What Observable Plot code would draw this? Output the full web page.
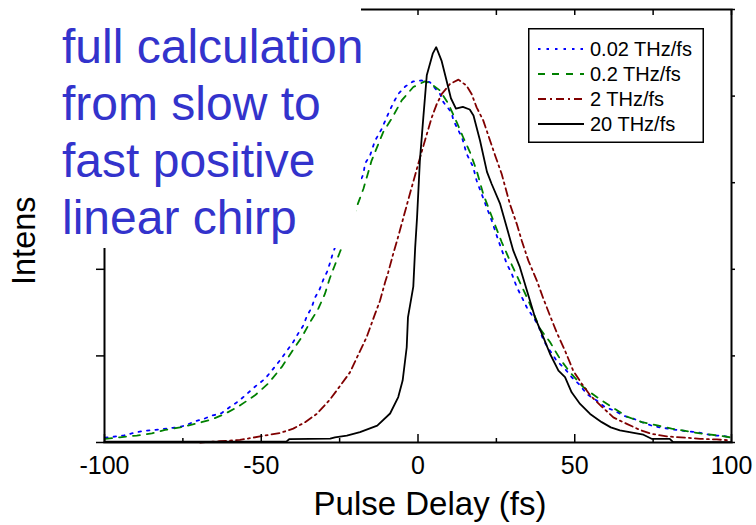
<!DOCTYPE html>
<html><head><meta charset="utf-8">
<script src="https://cdn.jsdelivr.net/npm/d3@7"></script>
<script src="https://cdn.jsdelivr.net/npm/@observablehq/plot@0.6"></script>
<style>
body{margin:0;background:#fff;}
#wrap{position:relative;width:756px;height:525px;overflow:hidden;font-family:"Liberation Sans",Arial,sans-serif;}
.mask{position:absolute;background:#fff;}
#note{position:absolute;left:62px;top:18px;font-size:48px;line-height:57px;color:#3333cc;white-space:nowrap;}
#legend{position:absolute;left:528px;top:28px;}
</style></head>
<body><div id="wrap"></div>
<script>
// ---- data ----
const series = ["0.02 THz/fs", "0.2 THz/fs", "2 THz/fs", "20 THz/fs"];

const delay002 = [-99.8,-94.0,-91.3,-88.1,-82.8,-77.0,-74.3,-71.1,-68.5,-65.8,-62.6,-60.0,-57.3,-54.6,-51.5,-48.8,-46.2,-44.0,-41.9,-39.8,-38.2,-36.6,-35.5,-33.9,-32.9,-31.3,-30.2,-28.9,-28.1,-27.2,-24.0,-21.0,-17.4,-16.9,-15.3,-13.7,-11.6,-9.5,-7.9,-6.3,-4.1,-1.5,1.2,3.8,7.0,8.1,10.7,11.3,14.1,15.5,17.6,18.7,20.3,21.9,23.5,25.1,26.2,28.3,29.9,31.5,33.1,34.7,36.8,38.4,40.0,42.1,44.2,46.9,49.0,51.7,53.8,57.0,59.6,62.8,65.5,68.7,71.4,74.5,77.2,81.4,85.7,88.9,94.2,96.9,99.5];
const int002 = [0.011,0.016,0.021,0.026,0.030,0.035,0.039,0.049,0.054,0.062,0.068,0.082,0.095,0.112,0.132,0.147,0.170,0.190,0.211,0.232,0.252,0.270,0.291,0.312,0.334,0.355,0.376,0.396,0.414,0.436,0.500,0.560,0.620,0.644,0.663,0.697,0.724,0.759,0.784,0.805,0.822,0.834,0.836,0.832,0.805,0.786,0.762,0.744,0.703,0.667,0.636,0.605,0.574,0.543,0.513,0.478,0.455,0.413,0.390,0.359,0.336,0.312,0.289,0.270,0.236,0.212,0.189,0.170,0.151,0.132,0.112,0.097,0.082,0.073,0.062,0.055,0.047,0.039,0.035,0.030,0.026,0.024,0.016,0.016,0.012];

const delay02 = [-99.8,-95.1,-89.7,-84.9,-80.7,-75.9,-71.1,-66.3,-61.6,-57.3,-52.0,-47.8,-43.5,-40.3,-37.1,-34.4,-31.8,-29.7,-28.1,-26.5,-24.9,-22.2,-19.6,-17.4,-14.8,-11.1,-8.4,-5.2,-1.5,2.2,3.8,7.0,9.7,12.2,14.4,16.6,18.7,20.8,24.0,26.7,29.3,32.5,35.2,38.9,42.1,45.3,48.5,52.7,57.0,61.8,66.6,71.4,76.7,80.9,90.0,95.8,99.5];
const int02 = [0.0085,0.012,0.016,0.021,0.029,0.035,0.043,0.052,0.066,0.083,0.109,0.136,0.174,0.209,0.243,0.278,0.309,0.343,0.380,0.410,0.440,0.490,0.543,0.586,0.651,0.717,0.748,0.790,0.821,0.834,0.830,0.813,0.782,0.742,0.705,0.670,0.628,0.574,0.513,0.463,0.420,0.370,0.328,0.263,0.232,0.193,0.162,0.128,0.105,0.082,0.060,0.047,0.039,0.032,0.021,0.016,0.012];

const delay2 = [-69.5,-63.2,-56.8,-50.4,-44.0,-39.8,-36.0,-32.3,-28.1,-24.3,-21.7,-19.3,-16.4,-13.7,-12.1,-10.5,-9.5,-7.9,-6.8,-5.2,-2.6,0.1,2.2,4.4,6.0,7.6,10.2,12.9,15.5,17.1,18.7,20.8,23.0,24.6,26.7,29.3,31.5,33.1,35.2,37.9,40.0,42.1,44.2,46.9,49.5,52.2,54.9,58.6,62.3,66.6,70.8,74.5,79.3,85.7,90.0,95.3,99.5];
const int2 = [0.000,0.003,0.006,0.014,0.022,0.032,0.047,0.066,0.099,0.136,0.162,0.199,0.243,0.297,0.328,0.370,0.393,0.436,0.463,0.505,0.574,0.644,0.697,0.751,0.782,0.805,0.828,0.838,0.824,0.805,0.774,0.744,0.697,0.663,0.620,0.551,0.505,0.466,0.420,0.374,0.332,0.293,0.255,0.212,0.166,0.136,0.109,0.083,0.058,0.043,0.029,0.020,0.014,0.011,0.0085,0.007,0.005];

const delay20 = [-100,-42,-41,-28,-26.5,-22.7,-18.5,-13.0,-8.9,-6.3,-4.9,-3.6,-3.2,-1.5,-0.9,-0.3,0.6,1.7,2.8,4.7,5.8,7.5,9.1,10.5,12.1,14.3,16.5,17.7,19.8,22.0,23.5,26.2,28.3,30.4,32.5,35.7,37.3,40.0,42.1,44.8,46.9,49.0,51.7,54.9,58.6,61.5,64.4,68.8,71.9,74.5,80.3,81.4,100];
const int20 = [0.002,0.002,0.008,0.009,0.012,0.016,0.024,0.039,0.067,0.105,0.143,0.220,0.289,0.360,0.450,0.520,0.651,0.751,0.848,0.898,0.913,0.882,0.836,0.795,0.771,0.775,0.769,0.755,0.697,0.625,0.597,0.551,0.497,0.443,0.405,0.328,0.289,0.243,0.205,0.166,0.151,0.116,0.089,0.066,0.047,0.035,0.028,0.022,0.018,0.0085,0.0085,0.001,0.001];

const xMajorTicks = [-100, -50, 0, 50, 100];
const xMinorTicks = [-75, -25, 25, 75];
const yTicks = [0, 0.2, 0.4, 0.6, 0.8, 1.0];
const xLabel = "Pulse Delay (fs)";
const yLabel = "Intensity";
const noteLines = ["full calculation", "from slow to", "fast positive", "linear chirp"];

// ---- styles ----
const styles = [
  {color: "#0000ff", dash: "2.5,6"},
  {color: "#008000", dash: "7,7"},
  {color: "#800000", dash: "8,4,2,4"},
  {color: "#000000", dash: null}
];
const xs = [delay002, delay02, delay2, delay20];
const ys = [int002, int02, int2, int20];

const font = "Liberation Sans, Arial, sans-serif";
const blank = () => "";

const lineMarks = series.map((name, k) =>
  Plot.line(xs[k].map((x, i) => ({x, y: ys[k][i]})), {
    x: "x", y: "y", stroke: styles[k].color, strokeWidth: 1.8,
    strokeDasharray: styles[k].dash || undefined
  })
);

const chart = Plot.plot({
  width: 756, height: 525,
  marginLeft: 104, marginRight: 25, marginTop: 9, marginBottom: 83,
  style: {fontFamily: font, background: "white", overflow: "visible"},
  x: {domain: [-100, 100]},
  y: {domain: [0, 1]},
  marks: [
    ...lineMarks,
    Plot.axisX({anchor: "bottom", ticks: xMajorTicks, tickSize: 0, tickPadding: 14, fontSize: 25, tickFormat: d => String(d), label: null, fill: "black"}),
    Plot.axisX({anchor: "bottom", ticks: xMajorTicks, tickSize: -8, tickFormat: blank, label: null, strokeWidth: 1.5}),
    Plot.axisX({anchor: "bottom", ticks: xMinorTicks, tickSize: -4, tickFormat: blank, label: null, strokeWidth: 1.5}),
    Plot.axisX({anchor: "top", ticks: [...xMajorTicks, ...xMinorTicks], tickSize: -5, tickFormat: blank, label: null, strokeWidth: 1.5}),
    Plot.axisY({anchor: "left", ticks: yTicks, tickSize: 8, tickFormat: blank, label: null, strokeWidth: 1.5}),
    Plot.axisY({anchor: "right", ticks: yTicks, tickSize: 3, tickFormat: blank, label: null, strokeWidth: 1.5}),
    Plot.frame({stroke: "black", strokeWidth: 2}),
    Plot.text([xLabel], {text: d => d, frameAnchor: "bottom", dx: 12, dy: 72, fontSize: 33, fill: "black"}),
    Plot.text([yLabel], {text: d => d, frameAnchor: "left", rotate: -90, textAnchor: "start", dx: -80, dy: 59, fontSize: 32.5, fill: "black"})
  ]
});

const wrap = document.getElementById("wrap");
wrap.appendChild(chart);

// white box behind the annotation (covers upper-left of the chart as in the original)
function addMask(l, t, w, h) {
  const m = document.createElement("div");
  m.className = "mask";
  Object.assign(m.style, {left: l + "px", top: t + "px", width: w + "px", height: h + "px"});
  wrap.appendChild(m);
}
addMask(0, 0, 361, 195);
addMask(45, 195, 311, 53);

const note = document.createElement("div");
note.id = "note";
note.innerHTML = noteLines.join("<br>");
wrap.appendChild(note);

// legend
const ns = "http://www.w3.org/2000/svg";
const lg = document.createElementNS(ns, "svg");
lg.setAttribute("id", "legend");
lg.setAttribute("width", 176);
lg.setAttribute("height", 116);
const rect = document.createElementNS(ns, "rect");
Object.entries({x: 0.75, y: 0.75, width: 174.5, height: 113.5, fill: "white", stroke: "black", "stroke-width": 1.5})
  .forEach(([k, v]) => rect.setAttribute(k, v));
lg.appendChild(rect);
series.forEach((name, k) => {
  const cy = 21 + k * 25;
  const ln = document.createElementNS(ns, "line");
  Object.entries({x1: 10, x2: 56, y1: cy, y2: cy, stroke: styles[k].color, "stroke-width": 1.8})
    .forEach(([a, v]) => ln.setAttribute(a, v));
  if (styles[k].dash) ln.setAttribute("stroke-dasharray", styles[k].dash);
  lg.appendChild(ln);
  const t = document.createElementNS(ns, "text");
  t.setAttribute("x", 62);
  t.setAttribute("y", cy + 7);
  t.setAttribute("font-size", 20);
  t.setAttribute("font-family", font);
  t.textContent = name;
  lg.appendChild(t);
});
wrap.appendChild(lg);
</script>
</body></html>
